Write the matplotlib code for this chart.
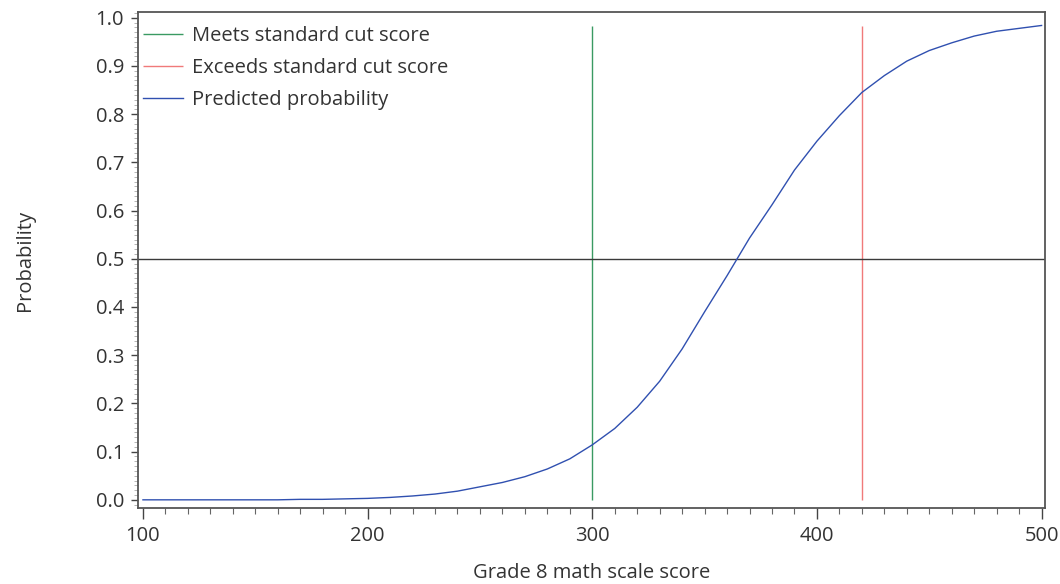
import matplotlib

matplotlib.use("Agg")

import matplotlib.pyplot as plt
from matplotlib.ticker import FormatStrFormatter, MultipleLocator

# predicted probability
scores = [100, 110, 120, 130, 140, 150, 160, 170, 180, 190,
          200, 210, 220, 230, 240, 250, 260, 270, 280, 290,
          300, 310, 320, 330, 340, 350, 360, 370, 380, 390,
          400, 410, 420, 430, 440, 450, 460, 470, 480, 490, 500]
probability = [0.000, 0.000, 0.000, 0.000, 0.000, 0.000, 0.000, 0.001, 0.001, 0.002,
               0.003, 0.005, 0.008, 0.012, 0.018, 0.027, 0.036, 0.048, 0.064, 0.085,
               0.114, 0.148, 0.192, 0.246, 0.313, 0.390, 0.465, 0.543, 0.612, 0.684,
               0.744, 0.797, 0.845, 0.880, 0.910, 0.932, 0.948, 0.962, 0.972, 0.978, 0.984]

meets_cut = 300
exceeds_cut = 420
cut_line_top = 0.982
half = 0.5

plt.rcParams["font.family"] = ["Open Sans", "DejaVu Sans"]
TEXT = "#333333"
FS = 14.5

fig = plt.figure(figsize=(10.6, 5.84), dpi=100)
ax = fig.add_axes([0.1302, 0.1301, 0.8556, 0.8494])

ax.vlines(meets_cut, 0, cut_line_top, color="#3a9a62", linewidth=1.0,
          label="Meets standard cut score")
ax.vlines(exceeds_cut, 0, cut_line_top, color="#f07a7a", linewidth=1.0,
          label="Exceeds standard cut score")
ax.axhline(half, color="#3a3a3a", linewidth=1.0)
ax.plot(scores, probability, color="#3050b0", linewidth=1.0,
        label="Predicted probability")

ax.set_xlim(97.8, 501.5)
ax.set_ylim(-0.017, 1.012)

ax.xaxis.set_major_locator(MultipleLocator(100))
ax.xaxis.set_minor_locator(MultipleLocator(10))
ax.yaxis.set_major_locator(MultipleLocator(0.1))
ax.yaxis.set_minor_locator(MultipleLocator(0.01))
ax.yaxis.set_major_formatter(FormatStrFormatter("%.1f"))

ax.tick_params(axis="x", which="major", length=8, width=1.0, color="#444444",
               labelsize=FS, labelcolor=TEXT, pad=5)
ax.tick_params(axis="x", which="minor", length=4, width=0.8, color="#666666")
ax.tick_params(axis="y", which="major", length=5, width=1.0, color="#444444",
               labelsize=FS, labelcolor=TEXT, pad=5)
ax.tick_params(axis="y", which="minor", length=3, width=0.5, color="#999999")

for sp in ax.spines.values():
    sp.set_color("#555555")
    sp.set_linewidth(1.3)

ax.set_xlabel("Grade 8 math scale score", fontsize=FS, color=TEXT, labelpad=12)
ax.set_ylabel("Probability", fontsize=FS, color=TEXT, labelpad=44)

leg = ax.legend(loc="upper left", frameon=False, fontsize=FS, handlelength=2.0,
                handletextpad=0.45, labelspacing=0.6, borderaxespad=0.15,
                borderpad=0.1, bbox_to_anchor=(0.0, 0.982))
for t in leg.get_texts():
    t.set_color(TEXT)

fig.savefig("out.png", dpi=100)
plt.close(fig)
